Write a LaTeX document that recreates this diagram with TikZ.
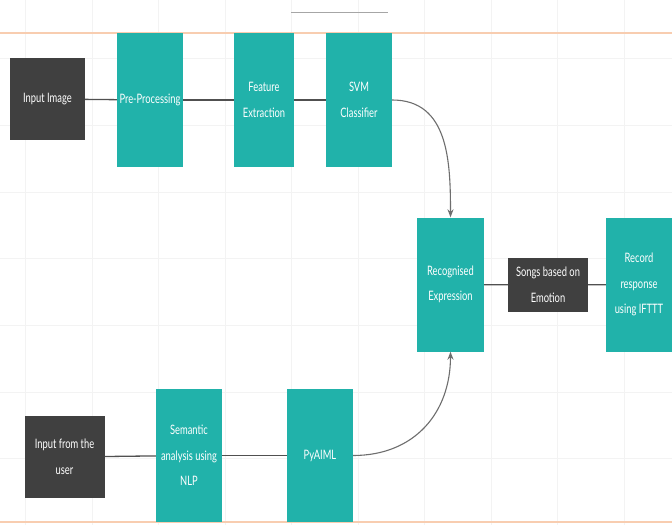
\documentclass[tikz,border=0pt]{standalone}
\usepackage{fontspec}
\setmainfont[FakeStretch=0.72]{Lato}
\usetikzlibrary{arrows.meta}
\definecolor{tealbox}{HTML}{21B2AA}
\definecolor{darkbox}{HTML}{404040}
\definecolor{orangeline}{HTML}{F8CDB0}
\definecolor{gridc}{HTML}{F3F3F3}
\definecolor{linec}{HTML}{505050}
\definecolor{curvec}{HTML}{6E6E6E}
\begin{document}
\begin{tikzpicture}[x=1pt,y=-1pt,
  box/.style={draw=none, text=white, align=center, font=\fontsize{13}{25.5}\selectfont, inner sep=0pt},
  tbox/.style={box, fill=tealbox, minimum width=66pt, minimum height=134pt},
  dbox/.style={box, fill=darkbox},
  conn/.style={draw=linec, line width=1.3pt},
  curv/.style={draw=curvec, line width=1.1pt, -{Stealth[length=8pt,width=6pt]}}]
\useasboundingbox (0,0) rectangle (672,525);
\fill[white] (0,0) rectangle (672,525);
% faint grid
\foreach \yy in {58,125,192,258,325,392,458}{\draw[gridc, line width=0.8pt] (0,\yy) -- (672,\yy);}
\foreach \xx in {25,92,158,225,291,358,424,491,557,624}{\draw[gridc, line width=0.8pt] (\xx,0) -- (\xx,525);}
% top decorations
\draw[orangeline, line width=1.5pt] (0,33) -- (672,33);
\draw[orangeline, line width=1.5pt] (0,522) -- (672,522);
\draw[black!35, line width=0.8pt] (291,12) -- (388,12);
% nodes
\node[dbox, minimum width=75pt, minimum height=82pt] (img) at (47.5,99) {Input Image};
\node[tbox] (pre) at (150,100) {Pre-Processing};
\node[tbox, minimum width=60pt] (fe) at (264,100) {Feature\\Extraction};
\node[tbox] (svm) at (359,100) {SVM\\Classifier};
\node[tbox, minimum width=67pt] (rec) at (450.5,284.5) {Recognised\\Expression};
\node[dbox, minimum width=80pt, minimum height=54pt] (songs) at (548,285) {Songs based on\\Emotion};
\node[tbox] (ifttt) at (639,284.5) {Record\\response\\using IFTTT};
\node[dbox, minimum width=80pt, minimum height=82pt] (user) at (64.5,457) {Input from the\\user};
\node[tbox, minimum height=133pt] (sem) at (189,455.5) {Semantic\\analysis using\\NLP};
\node[tbox, minimum height=133pt] (py) at (320,455.5) {PyAIML};
% connectors
\draw[conn] (img) -- (pre);
\draw[conn] (pre) -- (fe);
\draw[conn] (fe) -- (svm);
\draw[conn] (rec) -- (songs);
\draw[conn] (songs) -- (ifttt);
\draw[conn] (user) -- (sem);
\draw[conn] (sem) -- (py);
\draw[curv] (svm.east) to[out=0,in=90,looseness=1.1] (rec.north);
\draw[curv] (py.east) to[out=0,in=-90,looseness=1.1] (rec.south);
\end{tikzpicture}
\end{document}
